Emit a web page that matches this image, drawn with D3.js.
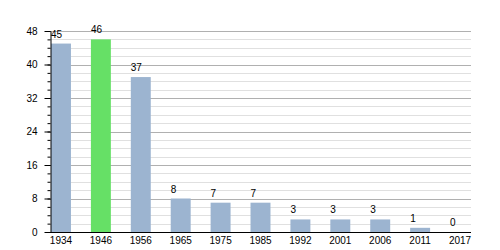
<!DOCTYPE html>
<html>
<head>
<meta charset="utf-8">
<script src="https://cdn.jsdelivr.net/npm/d3@7"></script>
<style>
  body { margin: 0; background: #fff; }
  text { font-family: "Liberation Sans", Arial, sans-serif; font-size: 10px; fill: #000; }
</style>
</head>
<body>
<div id="chart"></div>
<script>
// census years and population
var years = ["1934", "1946", "1956", "1965", "1975", "1985", "1992", "2001", "2006", "2011", "2017"];
var population = [45, 46, 37, 8, 7, 7, 3, 3, 3, 1, 0];
var highlightYear = "1946";
var majorTicks = [0, 8, 16, 24, 32, 40, 48];
var minorTicks = d3.range(0, 49, 2);

var width = 500, height = 250;
var plotLeft = 50, plotRight = 471, plotTop = 31, plotBottom = 232;

var svg = d3.select("#chart").append("svg")
  .attr("width", width)
  .attr("height", height);

var x = d3.scaleBand()
  .domain(years)
  .range([plotLeft + 1, plotRight - 1])
  .paddingInner(0.5)
  .paddingOuter(0);

var y = d3.scaleLinear()
  .domain([0, 48])
  .range([plotBottom, plotTop]);

// minor grid
svg.append("g")
  .selectAll("line")
  .data(minorTicks.filter(function(d) { return d % 8 !== 0; }))
  .enter().append("line")
  .attr("x1", plotLeft).attr("x2", plotRight)
  .attr("y1", function(d) { return Math.round(y(d)) + 0.5; })
  .attr("y2", function(d) { return Math.round(y(d)) + 0.5; })
  .attr("stroke", "#e0e0e0");

// major grid
svg.append("g")
  .selectAll("line")
  .data(majorTicks.filter(function(d) { return d > 0; }))
  .enter().append("line")
  .attr("x1", plotLeft).attr("x2", plotRight)
  .attr("y1", function(d) { return Math.round(y(d)) + 0.5; })
  .attr("y2", function(d) { return Math.round(y(d)) + 0.5; })
  .attr("stroke", "#b0b0b0");

// bars
svg.append("g")
  .selectAll("rect")
  .data(years)
  .enter().append("rect")
  .attr("x", function(d) { return x(d); })
  .attr("width", x.bandwidth())
  .attr("y", function(d, i) { return y(population[i]); })
  .attr("height", function(d, i) { return plotBottom - y(population[i]); })
  .attr("fill", function(d) { return d === highlightYear ? "#66e066" : "#9cb4d0"; });

// value labels
svg.append("g")
  .selectAll("text")
  .data(years)
  .enter().append("text")
  .attr("x", function(d) { return x(d); })
  .attr("y", function(d, i) { return y(population[i]) - 6; })
  .text(function(d, i) { return population[i]; });

// y axis: minor ticks then major ticks with labels
svg.append("g")
  .attr("transform", "translate(" + (plotLeft + 0.5) + ",0)")
  .call(d3.axisLeft(y).tickValues(minorTicks).tickSize(3).tickFormat(""))
  .call(function(g) { g.select(".domain").remove(); });

svg.append("g")
  .attr("transform", "translate(" + (plotLeft + 0.5) + ",0)")
  .call(d3.axisLeft(y).tickValues(majorTicks).tickSize(6).tickPadding(7).tickSizeOuter(0))
  .call(function(g) {
    g.selectAll("text").style("font-size", "10px").style("font-family", "'Liberation Sans', Arial, sans-serif");
    g.select(".domain").attr("stroke", "#000");
  });

// x axis
svg.append("g")
  .attr("transform", "translate(0," + (plotBottom + 0.5) + ")")
  .call(d3.axisBottom(x).tickSize(0).tickPadding(4).tickSizeOuter(0))
  .call(function(g) {
    g.select(".domain").attr("d", "M" + plotLeft + ",0H" + plotRight).attr("stroke", "#000");
    g.selectAll("text").style("font-size", "10px").style("font-family", "'Liberation Sans', Arial, sans-serif");
  });
</script>
</body>
</html>
